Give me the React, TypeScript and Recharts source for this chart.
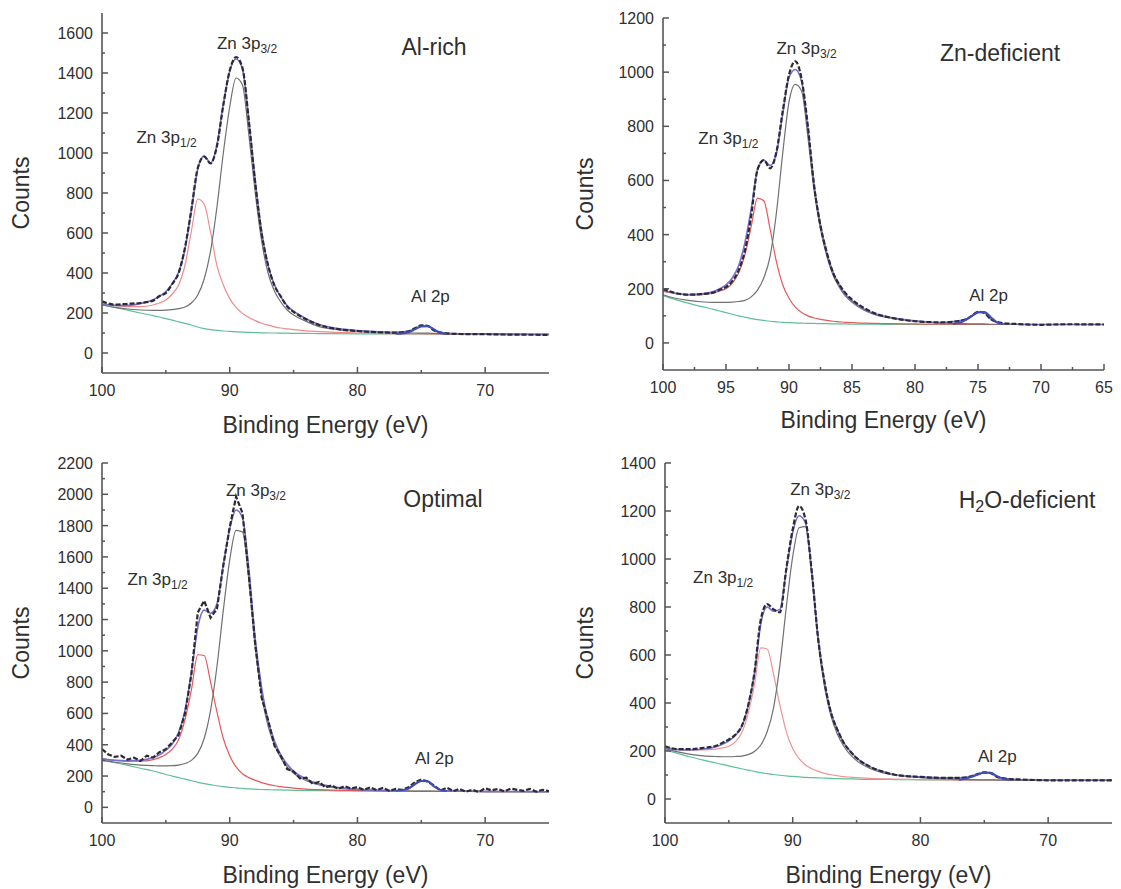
import * as React from "react";
import { LineChart, Line, XAxis, YAxis, ReferenceDot } from "recharts";

// binding energy grid (eV) shared by the spectra and fit components
const ENERGY = [100, 99, 98, 97, 96, 95.5, 95, 94.5, 94, 93.5, 93, 92.5, 92, 91.5, 91, 90.5, 90, 89.5, 89, 88.5, 88, 87.5, 87, 86.5, 86, 85.5, 85, 84, 83, 82, 80, 78, 77, 76, 75.5, 75, 74.5, 74, 73, 72, 70, 68, 65];
const AL_ENERGY = [77, 76.5, 76, 75.5, 75, 74.5, 74, 73.5, 73];
// finer grid for the noisy "Optimal" spectrum
const OPT_ENERGY = [100, 99.5, 99, 98.5, 98, 97.5, 97, 96.5, 96, 95.5, 95, 94.5, 94, 93.5, 93, 92.5, 92, 91.5, 91, 90.5, 90, 89.5, 89, 88.5, 88, 87.5, 87, 86.5, 86, 85.5, 85, 84.5, 84, 83.5, 83, 82.5, 82, 81.5, 81, 80.5, 80, 79.5, 79, 78.5, 78, 77.5, 77, 76.5, 76, 75.5, 75, 74.5, 74, 73.5, 73, 72.5, 72, 71.5, 71, 70.5, 70, 69.5, 69, 68.5, 68, 67.5, 67, 66.5, 66, 65.5, 65];

// Al-rich
const alRichCounts = [258, 242, 246, 250, 262, 285, 300, 345, 400, 528, 718, 925, 982, 948, 1035, 1240, 1412, 1480, 1425, 1160, 850, 598, 440, 338, 283, 232, 206, 168, 140, 124, 110, 103, 102, 108, 124, 138, 136, 112, 98, 95, 94, 92, 91];
const alRichFit = [245, 238, 238, 247, 266, 283, 307, 347, 404, 520, 715, 920, 985, 950, 1040, 1244, 1409, 1470, 1420, 1162, 858, 607, 438, 341, 281, 237, 209, 171, 142, 127, 112, 105, 104, 108, 122, 135, 136, 114, 98, 96, 95, 94, 93];
const alRichP12 = [245, 238, 232, 232, 240, 250, 265, 295, 340, 440, 610, 770, 745, 604, 437, 340, 272, 228, 198, 178, 162, 149, 139, 131, 125, 121, 117, 111, 107, 104, 100, 97, 96, 96, 95, 95, 95, 94, 94, 93, 93, 92, 92];
const alRichP32 = [240, 228, 220, 215, 213, 213, 214, 217, 222, 230, 250, 290, 370, 510, 730, 1000, 1230, 1375, 1340, 1090, 800, 560, 400, 310, 255, 215, 190, 158, 132, 120, 108, 103, 101, 100, 100, 99, 99, 98, 97, 96, 95, 94, 93];
const alRichBg = [240, 228, 214, 200, 187, 180, 172, 164, 156, 148, 140, 130, 122, 117, 113, 110, 108, 106, 104, 103, 102, 101, 100, 100, 99, 99, 98, 98, 97, 97, 96, 95, 95, 95, 95, 95, 94, 94, 94, 93, 93, 92, 92];
const alRichAl = [96, 98, 104, 118, 133, 134, 118, 100, 95];

// Zn-deficient
const znDefCounts = [200, 184, 178, 180, 186, 196, 206, 228, 268, 340, 470, 640, 675, 645, 705, 855, 990, 1040, 975, 800, 578, 432, 334, 259, 215, 183, 160, 128, 106, 94, 80, 76, 78, 86, 100, 115, 111, 88, 73, 70, 67, 69, 68];
const znDefFit = [195, 183, 179, 181, 190, 200, 214, 240, 285, 370, 495, 640, 675, 655, 700, 845, 980, 1010, 965, 790, 580, 436, 332, 260, 213, 178, 156, 124, 105, 95, 82, 75, 79, 86, 100, 114, 112, 88, 71, 69, 68, 68, 68];
const znDefP12 = [190, 182, 177, 178, 185, 192, 200, 220, 258, 325, 430, 535, 525, 420, 300, 215, 165, 132, 112, 100, 92, 87, 83, 80, 78, 76, 75, 73, 72, 71, 70, 69, 69, 68, 68, 68, 68, 68, 68, 68, 68, 68, 68];
const znDefP32 = [178, 165, 157, 152, 150, 150, 150, 151, 153, 157, 170, 195, 240, 320, 480, 700, 890, 955, 930, 760, 560, 420, 320, 250, 205, 172, 150, 120, 102, 92, 80, 74, 72, 71, 70, 70, 70, 69, 69, 68, 68, 68, 68];
const znDefBg = [175, 160, 147, 135, 124, 118, 112, 106, 100, 95, 90, 86, 83, 80, 78, 76, 75, 74, 73, 72, 72, 71, 71, 70, 70, 70, 69, 69, 69, 68, 68, 68, 68, 68, 68, 68, 68, 68, 68, 68, 68, 68, 68];
const znDefAl = [70, 74, 84, 99, 112, 114, 96, 76, 70];

// Optimal (measured on the finer grid)
const optCounts = [372, 338, 322, 330, 305, 318, 296, 330, 318, 352, 372, 415, 462, 600, 850, 1245, 1320, 1212, 1268, 1545, 1790, 1985, 1880, 1480, 1040, 700, 560, 395, 330, 245, 230, 185, 190, 150, 162, 128, 140, 118, 135, 120, 130, 112, 128, 110, 124, 106, 118, 112, 128, 160, 178, 165, 140, 108, 126, 104, 118, 100, 112, 98, 122, 108, 118, 102, 120, 112, 106, 118, 100, 112, 104];
const optFit = [310, 300, 297, 300, 318, 335, 365, 405, 480, 620, 860, 1150, 1260, 1240, 1300, 1550, 1780, 1900, 1850, 1520, 1075, 765, 555, 426, 336, 275, 232, 180, 150, 133, 116, 109, 106, 119, 146, 169, 166, 131, 105, 103, 102, 101, 100];
const optP12 = [310, 300, 295, 295, 305, 318, 338, 372, 432, 560, 750, 975, 970, 800, 610, 440, 330, 258, 215, 190, 172, 158, 147, 138, 132, 127, 123, 117, 113, 110, 107, 105, 104, 103, 103, 103, 103, 103, 102, 102, 101, 100, 100];
const optP32 = [300, 288, 278, 270, 266, 265, 265, 266, 270, 280, 300, 345, 440, 620, 900, 1260, 1580, 1770, 1760, 1450, 1020, 720, 520, 400, 315, 258, 218, 170, 143, 128, 113, 107, 106, 105, 104, 104, 104, 103, 103, 102, 101, 100, 100];
const optBg = [300, 285, 268, 250, 232, 222, 210, 200, 190, 180, 170, 160, 152, 145, 138, 132, 128, 124, 121, 118, 116, 114, 113, 112, 111, 110, 109, 108, 107, 106, 105, 104, 104, 103, 103, 103, 103, 103, 102, 102, 101, 100, 100];
const optAl = [106, 110, 120, 148, 168, 166, 135, 112, 104];

// H2O-deficient
const h2oCounts = [220, 208, 208, 213, 222, 234, 248, 268, 303, 387, 526, 748, 812, 790, 778, 960, 1124, 1221, 1165, 943, 665, 484, 359, 289, 234, 199, 171, 136, 115, 101, 92, 88, 88, 95, 104, 111, 108, 92, 83, 81, 78, 78, 78];
const h2oFit = [215, 205, 204, 208, 218, 228, 242, 265, 300, 385, 520, 730, 800, 782, 790, 955, 1110, 1180, 1150, 940, 665, 484, 360, 289, 234, 199, 171, 136, 115, 101, 92, 88, 88, 95, 103, 110, 108, 92, 83, 80, 78, 78, 78];
const h2oP12 = [215, 208, 205, 205, 208, 213, 220, 238, 275, 355, 475, 630, 625, 520, 390, 280, 210, 168, 142, 126, 115, 107, 101, 97, 93, 91, 89, 86, 84, 83, 81, 80, 79, 79, 79, 79, 79, 79, 78, 78, 78, 78, 78];
const h2oP32 = [210, 196, 186, 180, 177, 176, 176, 177, 179, 185, 198, 225, 280, 380, 560, 800, 1010, 1130, 1135, 930, 650, 465, 345, 270, 220, 185, 160, 128, 110, 100, 89, 84, 82, 81, 80, 80, 80, 79, 79, 78, 78, 78, 78];
const h2oBg = [205, 190, 175, 162, 150, 144, 138, 132, 126, 120, 115, 110, 106, 102, 99, 96, 94, 92, 90, 89, 88, 87, 86, 85, 84, 84, 83, 82, 82, 81, 80, 80, 79, 79, 79, 79, 79, 79, 78, 78, 78, 78, 78];
const h2oAl = [80, 84, 92, 102, 110, 109, 95, 84, 80];

// axis ticks
const X_MAJOR_10 = [100, 90, 80, 70];
const X_MINOR_10 = [95, 85, 75];
const X_MAJOR_5 = [100, 95, 90, 85, 80, 75, 70, 65];
const X_MINOR_5 = [97.5, 92.5, 87.5, 82.5, 77.5, 72.5, 67.5];

// annotations: [text, isSubscript] pieces placed at (energy, counts)
type Note = { e: number; y: number; parts: [string, boolean][]; size: number; anchor?: "start" | "middle" };

const alRichNotes: Note[] = [
  { e: 91.0, y: 1520, parts: [["Zn 3p", false], ["3/2", true]], size: 17 },
  { e: 97.3, y: 1050, parts: [["Zn 3p", false], ["1/2", true]], size: 17 },
  { e: 75.8, y: 255, parts: [["Al 2p", false]], size: 17 },
  { e: 74.0, y: 1490, parts: [["Al-rich", false]], size: 23, anchor: "middle" },
];
const znDefNotes: Note[] = [
  { e: 91.0, y: 1067, parts: [["Zn 3p", false], ["3/2", true]], size: 17 },
  { e: 97.2, y: 735, parts: [["Zn 3p", false], ["1/2", true]], size: 17 },
  { e: 75.7, y: 155, parts: [["Al 2p", false]], size: 17 },
  { e: 73.25, y: 1041, parts: [["Zn-deficient", false]], size: 23, anchor: "middle" },
];
const optNotes: Note[] = [
  { e: 90.3, y: 1986, parts: [["Zn 3p", false], ["3/2", true]], size: 17 },
  { e: 98.0, y: 1422, parts: [["Zn 3p", false], ["1/2", true]], size: 17 },
  { e: 75.5, y: 275, parts: [["Al 2p", false]], size: 17 },
  { e: 73.3, y: 1922, parts: [["Optimal", false]], size: 23, anchor: "middle" },
];
const h2oNotes: Note[] = [
  { e: 90.2, y: 1267, parts: [["Zn 3p", false], ["3/2", true]], size: 17 },
  { e: 97.8, y: 900, parts: [["Zn 3p", false], ["1/2", true]], size: 17 },
  { e: 75.5, y: 154, parts: [["Al 2p", false]], size: 17 },
  { e: 71.65, y: 1212, parts: [["H", false], ["2", true], ["O-deficient", false]], size: 23, anchor: "middle" },
];

const FONT = "'Liberation Sans', Arial, Helvetica, sans-serif";
const TEXT = "#2f2f2f";
const FRAME = "#555";

function range(a: number, b: number, step: number) {
  const out: number[] = [];
  for (let v = a; v <= b; v += step) out.push(v);
  return out;
}

function makeTick(majors: number[], side: "bottom" | "top" | "left" | "right") {
  return (props: any) => {
    const { x, y, payload } = props;
    const major = majors.includes(payload.value);
    const len = major ? 6 : 3;
    let x2 = x;
    let y2 = y;
    if (side === "bottom") y2 = y - len;
    if (side === "top") y2 = y + len;
    if (side === "left") x2 = x + len;
    if (side === "right") x2 = x - len;
    return (
      <g>
        <line x1={x} y1={y} x2={x2} y2={y2} stroke={FRAME} strokeWidth={1.5} />
        {major && side === "bottom" && (
          <text x={x} y={y + 23} textAnchor="middle" fontSize={16} fill={TEXT} fontFamily={FONT}>
            {payload.value}
          </text>
        )}
        {major && side === "left" && (
          <text x={x - 9} y={y + 6} textAnchor="end" fontSize={16} fill={TEXT} fontFamily={FONT}>
            {payload.value}
          </text>
        )}
      </g>
    );
  };
}

function noteShape(note: Note) {
  return (p: any) => (
    <text x={p.cx} y={p.cy} textAnchor={note.anchor ?? "start"} fontSize={note.size} fill={TEXT} fontFamily={FONT}>
      {note.parts.map(([t, sub], i) => {
        const prevSub = i > 0 && note.parts[i - 1][1];
        return sub ? (
          <tspan key={i} fontSize={Math.round(note.size * 0.68)} dy={4}>{t}</tspan>
        ) : (
          <tspan key={i} dy={prevSub ? -4 : 0}>{t}</tspan>
        );
      })}
    </text>
  );
}

interface Panel {
  left: number;
  top: number;
  width: number;
  height: number;
  margin: { top: number; right: number; left: number; bottom: number };
  xAxisHeight: number;
  titleGap: number;
  countsGap: number;
  yMax: number;
  xMajor: number[];
  xMinor: number[];
  countsE: number[];
  counts: number[];
  noisy: boolean;
  fit: number[];
  p12: number[];
  p32: number[];
  bg: number[];
  al: number[];
  red: string;
  notes: Note[];
}

const panels: Panel[] = [
  {
    left: 0, top: 0, width: 560, height: 440,
    margin: { top: 13, right: 11, left: 42, bottom: 0 },
    xAxisHeight: 67, titleGap: 60, countsGap: 81, yMax: 1700,
    xMajor: X_MAJOR_10, xMinor: X_MINOR_10,
    countsE: ENERGY, counts: alRichCounts, noisy: false,
    fit: alRichFit, p12: alRichP12, p32: alRichP32, bg: alRichBg, al: alRichAl,
    red: "#f08c8c", notes: alRichNotes,
  },
  {
    left: 560, top: 0, width: 561, height: 440,
    margin: { top: 18, right: 17, left: 43, bottom: 0 },
    xAxisHeight: 70, titleGap: 58, countsGap: 78, yMax: 1200,
    xMajor: X_MAJOR_5, xMinor: X_MINOR_5,
    countsE: ENERGY, counts: znDefCounts, noisy: false,
    fit: znDefFit, p12: znDefP12, p32: znDefP32, bg: znDefBg, al: znDefAl,
    red: "#e25a5a", notes: znDefNotes,
  },
  {
    left: 0, top: 440, width: 560, height: 449,
    margin: { top: 23, right: 11, left: 42, bottom: 0 },
    xAxisHeight: 66, titleGap: 60, countsGap: 81, yMax: 2200,
    xMajor: X_MAJOR_10, xMinor: X_MINOR_10,
    countsE: OPT_ENERGY, counts: optCounts, noisy: true,
    fit: optFit, p12: optP12, p32: optP32, bg: optBg, al: optAl,
    red: "#e45858", notes: optNotes,
  },
  {
    left: 560, top: 440, width: 561, height: 449,
    margin: { top: 23, right: 9, left: 45, bottom: 0 },
    xAxisHeight: 66, titleGap: 60, countsGap: 80, yMax: 1400,
    xMajor: X_MAJOR_10, xMinor: X_MINOR_10,
    countsE: ENERGY, counts: h2oCounts, noisy: false,
    fit: h2oFit, p12: h2oP12, p32: h2oP32, bg: h2oBg, al: h2oAl,
    red: "#f09494", notes: h2oNotes,
  },
];

function XpsPanel({ p }: { p: Panel }) {
  const rows = ENERGY.map((e, i) => ({ e, fit: p.fit[i], p12: p.p12[i], p32: p.p32[i], bg: p.bg[i] }));
  const countRows = p.countsE.map((e, i) => ({ e, counts: p.counts[i] }));
  const alRows = AL_ENERGY.map((e, i) => ({ e, al: p.al[i] }));
  const yMajor = range(0, p.yMax - (p.yMax % 200), 200);
  const yMinor = range(100, p.yMax - 100, 200);
  const yTicks = [...yMajor, ...yMinor].sort((a, b) => a - b);
  const xTicks = [...p.xMajor, ...p.xMinor].sort((a, b) => a - b);
  const common = { dot: false, activeDot: false, isAnimationActive: false } as const;

  return (
    <div style={{ position: "absolute", left: p.left, top: p.top }}>
      <LineChart width={p.width} height={p.height} data={rows} margin={p.margin}>
        <XAxis
          xAxisId="top" orientation="top" height={0} dataKey="e" type="number"
          domain={[65, 100]} reversed allowDataOverflow ticks={xTicks} interval={0}
          tickSize={0} tickMargin={0} tickLine={false} tick={makeTick(p.xMajor, "top")}
          axisLine={{ stroke: FRAME, strokeWidth: 1.6 }}
        />
        <XAxis
          dataKey="e" type="number" domain={[65, 100]} reversed allowDataOverflow
          height={p.xAxisHeight} ticks={xTicks} interval={0}
          tickSize={0} tickMargin={0} tickLine={false} tick={makeTick(p.xMajor, "bottom")}
          axisLine={{ stroke: FRAME, strokeWidth: 1.6 }}
          label={{
            content: ({ viewBox }: any) => (
              <text x={viewBox.x + viewBox.width / 2} y={viewBox.y + p.titleGap} textAnchor="middle" fontSize={23} fill={TEXT} fontFamily={FONT}>
                Binding Energy (eV)
              </text>
            ),
          }}
        />
        <YAxis
          type="number" domain={[-100, p.yMax]} allowDataOverflow width={60}
          ticks={yTicks} interval={0} tickSize={0} tickMargin={0} tickLine={false}
          tick={makeTick(yMajor, "left")} axisLine={{ stroke: FRAME, strokeWidth: 1.6 }}
          label={{
            content: ({ viewBox }: any) => {
              const cx = viewBox.x + viewBox.width - p.countsGap;
              const cy = viewBox.y + viewBox.height / 2;
              return (
                <text x={cx} y={cy + 8} transform={`rotate(-90, ${cx}, ${cy})`} textAnchor="middle" fontSize={23} fill={TEXT} fontFamily={FONT}>
                  Counts
                </text>
              );
            },
          }}
        />
        <YAxis
          yAxisId="right" orientation="right" width={0} type="number" domain={[-100, p.yMax]}
          allowDataOverflow ticks={yTicks} interval={0} tickSize={0} tickMargin={0} tickLine={false}
          tick={makeTick(yMajor, "right")} axisLine={{ stroke: FRAME, strokeWidth: 1.6 }}
        />
        <Line dataKey="bg" type="monotone" stroke="#5fbf96" strokeWidth={1.2} {...common} />
        <Line dataKey="p12" type="monotone" stroke={p.red} strokeWidth={1.2} {...common} />
        <Line dataKey="p32" type="monotone" stroke="#707070" strokeWidth={1.2} {...common} />
        <Line dataKey="fit" type="monotone" stroke="#7a6ed2" strokeWidth={1.6} {...common} />
        <Line
          data={countRows} dataKey="counts" type={p.noisy ? "linear" : "monotone"}
          stroke="#2b2b33" strokeWidth={2.2} strokeDasharray="5 2" {...common}
        />
        <Line data={alRows} dataKey="al" type="monotone" stroke="#3f4fb8" strokeWidth={2} {...common} />
        {p.notes.map((n, i) => (
          <ReferenceDot key={i} x={n.e} y={n.y} r={0} ifOverflow="visible" shape={noteShape(n)} />
        ))}
      </LineChart>
    </div>
  );
}

export default function App() {
  return (
    <div style={{ position: "absolute", left: 0, top: 0, width: 1121, height: 889, background: "#fff" }}>
      {panels.map((p, i) => (
        <XpsPanel key={i} p={p} />
      ))}
    </div>
  );
}
